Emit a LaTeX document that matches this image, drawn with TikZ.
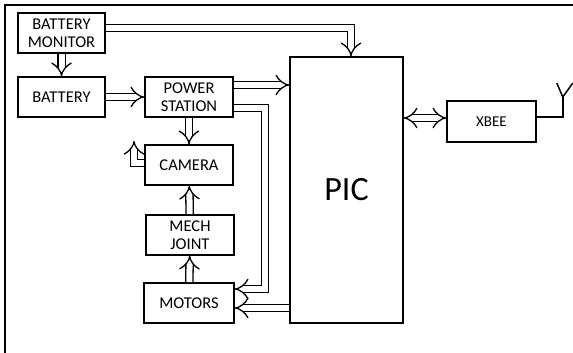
\documentclass[tikz,border=0pt]{standalone}
\usepackage{fontspec}
\setmainfont{Carlito}
\usetikzlibrary{arrows.meta}
\tikzset{
  blk/.style={draw, line width=1.6pt, align=center, minimum width=87pt, minimum height=40pt, inner sep=2pt, font=\fontsize{16.5}{18}\selectfont},
  dbl/.style={double, double distance=6pt, line width=1.3pt, -{Implies}},
}
\begin{document}
\begin{tikzpicture}[x=1pt,y=-1pt]
\useasboundingbox (0,0) rectangle (573,353);
\draw[line width=1.5pt] (5,353) -- (5,5) -- (573,5);

\node[blk] (bmon) at (61.5,33) {BATTERY\\MONITOR};
\node[blk] (batt) at (61.5,97) {BATTERY};
\node[blk, minimum width=88pt] (pstat) at (189,97) {POWER\\STATION};
\node[blk, minimum width=88pt] (cam) at (189,165) {CAMERA};
\node[blk, minimum width=88pt] (mech) at (190,235) {MECH\\JOINT};
\node[blk, minimum width=90pt] (mot) at (189,303) {MOTORS};
\node[blk, minimum width=113pt, minimum height=266pt, font=\fontsize{34}{36}\selectfont] (pic) at (346.5,190) {PIC};
\node[blk, minimum width=89pt, minimum height=41pt, font=\fontsize{15}{16}\selectfont] (xbee) at (491.5,121.5) {XBEE};

\coordinate (camout) at (134,141);

\draw[dbl] ([yshift=5pt]bmon.east) -| ([xshift=4.5pt]pic.north);
\draw[dbl] (bmon) -- (batt);
\draw[dbl] (batt) -- (pstat);
\draw[dbl] ([yshift=12pt]pstat.east) -- ([yshift=12pt]pstat.east -| pic.west);
\draw[dbl] (pstat) -- (cam);
\draw[dbl] ([yshift=2pt]cam.west) -| (camout);
\draw[dbl] (mech) -- (cam);
\draw[dbl] (mot) -- (mech);
\draw[dbl] ([yshift=-11pt]pstat.east) -- ++(31,0) |- ([yshift=14pt]mot.east);
\draw[dbl] ([yshift=-5pt]mot.east -| pic.west) -- ([yshift=-5pt]mot.east);
\draw[dbl, {Implies}-{Implies}] ([yshift=3.5pt]xbee.west -| pic.east) -- ([yshift=3.5pt]xbee.west);

% antenna
\draw[line width=1.5pt] ([yshift=4.5pt]xbee.east) -- ++(26,0) coordinate (ant) -- ++(0,-20) coordinate (antv);
\draw[line width=1.5pt] ([xshift=-6pt,yshift=14pt]antv) -- (antv) -- ([xshift=10pt,yshift=14pt]antv);
\end{tikzpicture}
\end{document}
